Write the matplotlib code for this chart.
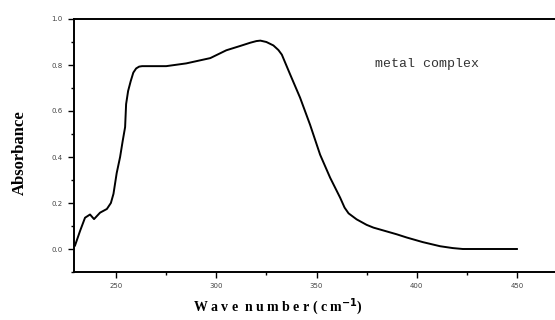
import numpy as np
from matplotlib import pyplot as plt
from matplotlib.ticker import MultipleLocator

# Absorbance spectrum
wavenumber = [229.5, 232, 234.5, 237, 239, 242, 245.4, 247.4, 248.7, 250.3, 252,
              253.3, 254.5, 255, 256, 257.3, 258.6, 260, 261.5, 263, 275, 285, 297,
              305, 312, 317, 320, 322, 325, 328.5, 331, 332.7, 336.8, 341.8, 346.8,
              351.8, 356.8, 361.8, 364, 366, 370, 375, 378.4, 390, 395, 403, 411.7,
              418, 423, 450]
absorbance = [0.015, 0.078, 0.136, 0.15, 0.13, 0.158, 0.174, 0.2, 0.24, 0.33, 0.40,
              0.47, 0.53, 0.63, 0.687, 0.73, 0.767, 0.785, 0.793, 0.795, 0.795, 0.807,
              0.83, 0.864, 0.883, 0.897, 0.904, 0.906, 0.9, 0.885, 0.865, 0.845, 0.76,
              0.658, 0.54, 0.41, 0.31, 0.223, 0.18, 0.155, 0.129, 0.105, 0.093, 0.064,
              0.05, 0.03, 0.012, 0.004, 0.0, 0.0]

fig = plt.figure(figsize=(5.55, 3.2), dpi=100)
ax = fig.add_axes([74/555, 48/320, 483/555, 253/320])

ax.plot(wavenumber, absorbance, color='black', lw=1.4)

ax.set_xlim(229, 470)
ax.set_ylim(-0.1, 1.0)
ax.xaxis.set_major_locator(MultipleLocator(50))
ax.xaxis.set_minor_locator(MultipleLocator(25))
ax.yaxis.set_major_locator(MultipleLocator(0.2))
ax.yaxis.set_minor_locator(MultipleLocator(0.1))
ax.yaxis.set_major_formatter(plt.FuncFormatter(lambda v, p: '%.1f' % v))

for s in ax.spines.values():
    s.set_linewidth(1.4)
ax.tick_params(which='major', length=4, width=1, labelsize=5, labelcolor='#444444', pad=4)
ax.tick_params(which='minor', length=2, width=1)

ax.text(379, 0.804, 'metal complex', family='Liberation Mono', fontsize=9.5, color='#333333',
        va='center')

ax.set_ylabel('Absorbance', family='Liberation Serif', fontweight='bold', fontsize=12)
ax.yaxis.set_label_coords(-0.095, 0.47)
ax.set_xlabel('W a v e  n u m b e r ( c m$^{\\mathbf{-1}}$)', family='Liberation Serif',
              fontweight='bold', fontsize=10)
ax.xaxis.set_label_coords((278-74)/483, -0.095)

plt.savefig('out.png', dpi=100)
